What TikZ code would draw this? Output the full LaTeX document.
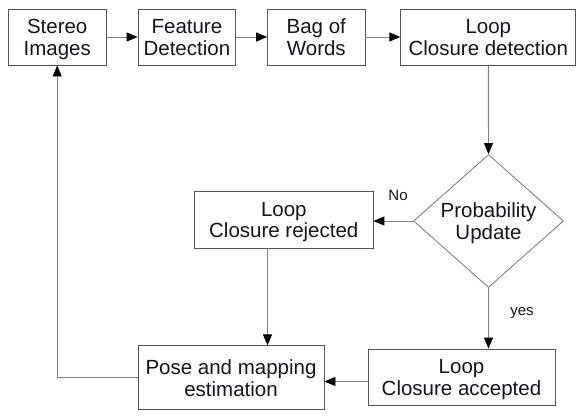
\documentclass[tikz,border=0pt]{standalone}
\usepackage{fontspec}
\setmainfont{Liberation Sans}
\usetikzlibrary{arrows.meta,shapes.geometric}
\definecolor{boxline}{HTML}{555555}
\definecolor{wire}{HTML}{808080}
\definecolor{ink}{HTML}{141420}
\tikzset{
  twolines/.style={align=center, text=ink, inner sep=0pt,
    text height=36.5pt, text depth=0pt, font=\fontsize{20.5}{21.7}\selectfont},
  stage/.style={twolines, draw=boxline, line width=0.9pt, rectangle},
  decision/.style={twolines, draw=wire, line width=0.9pt, diamond},
  wireline/.style={draw=wire, line width=0.9pt},
  flow/.style={wireline, -{Triangle[length=11pt,width=9pt,color=black]}},
  tag/.style={text=ink, font=\fontsize{15}{17}\selectfont}
}
\begin{document}
\begin{tikzpicture}[x=1pt,y=-1pt]
  \useasboundingbox (0,0) rectangle (577,418);

  % top row of processing stages
  \node[stage, minimum width=97.7pt, minimum height=56pt] (stereo)  at (57.2,37)  {Stereo\\Images};
  \node[stage, minimum width=97.7pt, minimum height=56pt] (feature) at (186.9,37) {Feature\\Detection};
  \node[stage, minimum width=97.3pt, minimum height=56pt] (bag)     at (316.3,37) {Bag of\\Words};
  \node[stage, minimum width=175pt,  minimum height=56pt] (detect)  at (488.3,37) {Loop\\Closure detection};

  % decision
  \node[decision, minimum width=150pt, minimum height=133pt, aspect=1.13] (prob) at (488.5,221) {Probability\\Update};

  % outcomes
  \node[stage, minimum width=178.3pt, minimum height=57pt] (rejected) at (283.8,219.5) {Loop\\Closure rejected};
  \node[stage, minimum width=187pt,   minimum height=56pt] (accepted) at (461.5,377)   {Loop\\Closure accepted};
  \node[stage, minimum width=186pt,   minimum height=64pt] (pose)     at (231,377.8)   {Pose and mapping\\estimation};

  \coordinate (dropx) at (267.5,0);

  % connectors
  \draw[flow] (stereo) -- (feature);
  \draw[flow] (feature) -- (bag);
  \draw[flow] (bag) -- (detect);
  \draw[flow] (detect.south) -- (prob.north);
  \draw[flow] (prob.west) -- (prob.west -| rejected.east);
  \draw[flow] (prob.south) -- (prob.south |- accepted.north);
  \draw[flow] (rejected.south -| dropx) -- (pose.north -| dropx);
  \draw[flow] ([yshift=-4.5pt]accepted.west) -- ([yshift=-4.5pt]accepted.west -| pose.east);
  \draw[flow] (pose.west) -| (stereo.south);

  % branch labels
  \node[tag] (no)  at (398,195) {No};
  \node[tag] (yes) at (522,313) {yes};
\end{tikzpicture}
\end{document}
